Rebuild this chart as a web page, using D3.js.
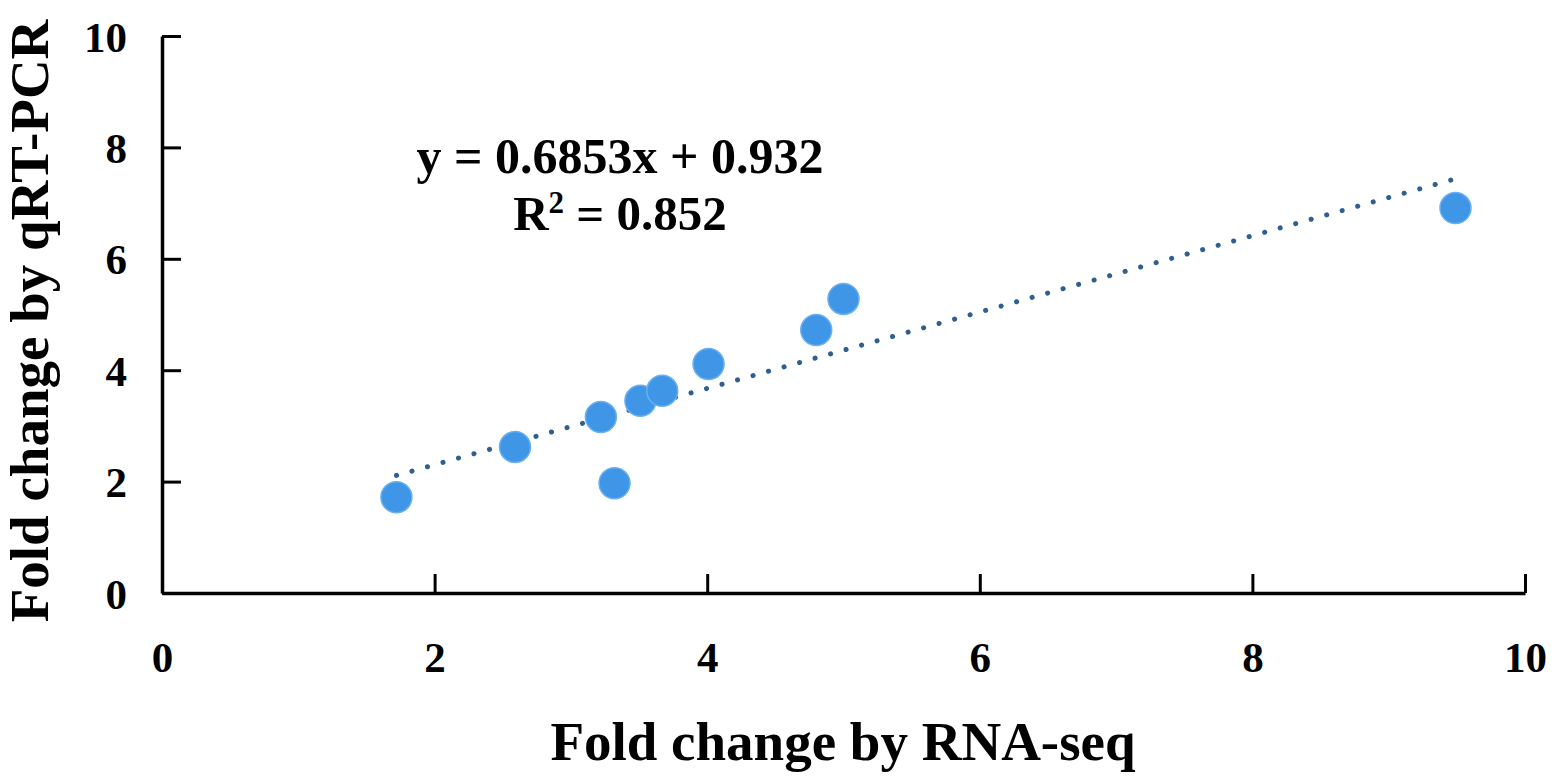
<!DOCTYPE html>
<html>
<head>
<meta charset="utf-8">
<script src="https://cdn.jsdelivr.net/npm/d3@7"></script>
<style>
  body { margin: 0; background: #fff; }
  text { font-family: "Liberation Serif", "Times New Roman", serif; font-weight: bold; fill: #000; }
</style>
</head>
<body>
<svg id="chart" width="1555" height="778"></svg>
<script>
// data
var rnaSeq = [1.72, 2.59, 3.22, 3.32, 3.51, 3.67, 4.01, 4.80, 5.00, 9.49];
var qPcr   = [1.72, 2.62, 3.16, 1.97, 3.45, 3.63, 4.11, 4.72, 5.28, 6.91];
var xTicks = [0, 2, 4, 6, 8, 10];
var yTicks = [0, 2, 4, 6, 8, 10];
var slope = 0.6853, intercept = 0.932, r2 = 0.852;

var svg = d3.select('#chart');

var x = d3.scaleLinear().domain([0, 10]).range([162, 1525]);
var y = d3.scaleLinear().domain([0, 10]).range([593, 36]);

// axes
var xAxis = d3.axisBottom(x).tickValues(xTicks).tickSizeInner(-19).tickSizeOuter(0).tickPadding(0).tickFormat(d3.format('d'));
var yAxis = d3.axisLeft(y).tickValues(yTicks).tickSizeInner(-19).tickSizeOuter(0).tickPadding(0).tickFormat(d3.format('d'));

var gx = svg.append('g').attr('transform', 'translate(0,' + y(0) + ')').call(xAxis);
var gy = svg.append('g').attr('transform', 'translate(' + x(0) + ',0)').call(yAxis);

[gx, gy].forEach(function(g) {
    g.select('.domain').attr('stroke', '#000').attr('stroke-width', 3.5);
    g.selectAll('.tick line').attr('stroke', '#000').attr('stroke-width', 3);
    g.selectAll('.tick text').style('font-size', '43px').attr('fill', '#000');
});
gx.selectAll('.tick text').attr('y', 64).attr('dy', '0.35em');
gy.selectAll('.tick text').attr('x', -35).attr('dy', '0.35em');

// trend line
var xMin = d3.min(rnaSeq), xMax = d3.max(rnaSeq);
svg.append('line')
    .attr('x1', x(xMin)).attr('y1', y(slope * xMin + intercept))
    .attr('x2', x(xMax)).attr('y2', y(slope * xMax + intercept))
    .attr('stroke', '#2f5f8f')
    .attr('stroke-width', 5)
    .attr('stroke-linecap', 'round')
    .attr('stroke-dasharray', '0.1 16');

// points
var pts = rnaSeq.map(function(v, i) { return { x: v, y: qPcr[i] }; });
svg.selectAll('circle.pt').data(pts).enter()
    .append('circle')
    .attr('class', 'pt')
    .attr('cx', function(d) { return x(d.x); })
    .attr('cy', function(d) { return y(d.y); })
    .attr('r', 15.5)
    .attr('fill', '#4096e6')
    .attr('stroke', '#6ab0f0')
    .attr('stroke-width', 1.5);

// equation
svg.append('text')
    .attr('x', 620).attr('y', 173)
    .attr('text-anchor', 'middle')
    .style('font-size', '50px')
    .text('y = ' + slope + 'x + ' + intercept);

var rt = svg.append('text')
    .attr('x', 620).attr('y', 230)
    .attr('text-anchor', 'middle')
    .style('font-size', '49px');
rt.append('tspan').text('R');
rt.append('tspan').attr('dy', -17).style('font-size', '31px').text('2');
rt.append('tspan').attr('dy', 17).text(' = ' + r2);

// axis titles
svg.append('text')
    .attr('x', 843).attr('y', 760)
    .attr('text-anchor', 'middle')
    .style('font-size', '55px')
    .text('Fold change by RNA-seq');

svg.append('text')
    .attr('transform', 'translate(48,321) rotate(-90)')
    .attr('text-anchor', 'middle')
    .style('font-size', '55px')
    .text('Fold change by qRT-PCR');
</script>
</body>
</html>
